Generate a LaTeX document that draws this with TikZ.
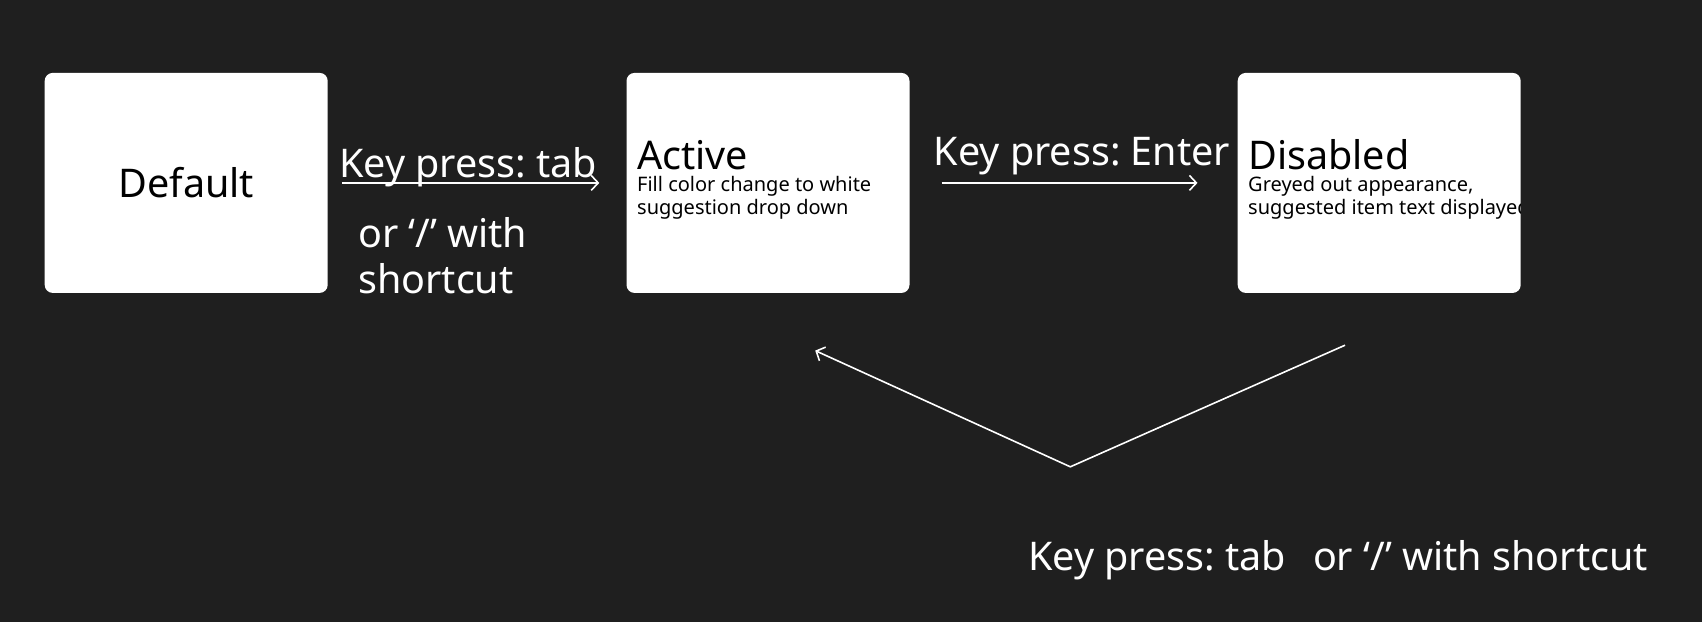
\documentclass[tikz,border=0pt]{standalone}
\usepackage{fontspec}
\setmainfont{Noto Sans}
\usetikzlibrary{positioning,arrows.meta}

\definecolor{bgdark}{RGB}{31,31,31}

\tikzset{
  statebox/.style={draw=none,fill=white,rounded corners=8pt,minimum width=283pt,minimum height=220pt,inner sep=0pt},
  bigtext/.style={inner sep=0pt,anchor=base west,font=\fontsize{39.5}{47}\selectfont},
  smalltext/.style={inner sep=0pt,anchor=base west,font=\fontsize{20}{24}\selectfont,text=black},
  flow/.style={-{Straight Barb[length=7pt,width=15pt]},white,line width=1.6pt}
}
\frenchspacing

\begin{document}
\begin{tikzpicture}[x=1pt,y=-1pt]
			\fill[bgdark] (0,0) rectangle (1702,622);
			% state boxes
			\node[statebox] (default) at (186.2,182.9){};
			\node[statebox] (active) at (768,182.9){};
			\node[statebox] (disabled) at (1379.2,182.9){};
			\node[inner sep=0pt,font=\fontsize{39.5}{47}\selectfont] (deftxt) at (default){Default};
			\node[bigtext] (acttxt) at (637,169){Active};
			\node[smalltext] (actsub1) at (637,191){Fill color change to white};
			\node[smalltext] (actsub2) at (637,214){suggestion drop down};
			\node[bigtext] (distxt) at (1248,169){Disabled};
			\begin{scope}
				\clip (disabled.south west) rectangle (disabled.north east);
				\node[smalltext] (dissub1) at (1248,191){Greyed out appearance,};
				\node[smalltext] (dissub2) at (1248,214){suggested item text displayed};
			\end{scope}
			% transitions
			\draw[flow,shorten <=14pt,shorten >=27pt] (default) -- (active);
			\node[bigtext,text=white] (tabtxt) at (339,177){Key press: tab};
			\node[bigtext,text=white] (ortxt) at (358,247){or ‘/’ with};
			\node[bigtext,text=white] (cuttxt) at (358,293){shortcut};
			\draw[flow,shorten <=32pt,shorten >=40pt] (active) -- (disabled);
			\node[bigtext,text=white] (entertxt) at (933.5,165){Key press: Enter};
			\coordinate (backstart) at (1345,345.2);
			\coordinate (backtip) at (1070.3,466.8);
			\coordinate (backend) at (815.2,350.6);
			\draw[flow] (backstart) -- (backtip) -- (backend);
			\node[bigtext,text=white] (backtxt) at (1028,570){Key press: tab\hspace{27pt}or ‘/’ with shortcut};
		\end{tikzpicture}
\end{document}
